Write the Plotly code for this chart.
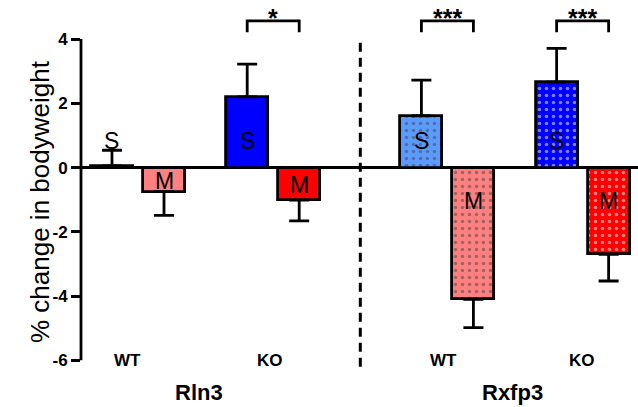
import plotly.graph_objects as go

# ---- data ----
genes = ["Rln3", "Rln3", "Rln3", "Rln3", "Rxfp3", "Rxfp3", "Rxfp3", "Rxfp3"]
genotypes = ["WT", "WT", "KO", "KO", "WT", "WT", "KO", "KO"]
sexes = ["S", "M", "S", "M", "S", "M", "S", "M"]
values = [0.05, -0.75, 2.20, -1.01, 1.61, -4.10, 2.66, -2.70]
sems = [0.49, 0.74, 1.02, 0.65, 1.11, 0.88, 1.05, 0.83]
sig_groups = [("Rln3", "KO", "*"), ("Rxfp3", "WT", "***"), ("Rxfp3", "KO", "***")]
y_ticks = [-6, -4, -2, 0, 2, 4]

# ---- layout helpers ----
gene_off = {"Rln3": 0.0, "Rxfp3": 5.95}
geno_off = {"WT": 0.0, "KO": 2.6}
sex_off = {"S": 0.0, "M": 1.0}
xs = [gene_off[g] + geno_off[t] + sex_off[s] for g, t, s in zip(genes, genotypes, sexes)]

fill = {
    ("Rln3", "WT", "S"): "#FFFFFF", ("Rln3", "WT", "M"): "#FF8080",
    ("Rln3", "KO", "S"): "#0000FF", ("Rln3", "KO", "M"): "#FF0000",
    ("Rxfp3", "WT", "S"): "#5B9BFF", ("Rxfp3", "WT", "M"): "#FF8080",
    ("Rxfp3", "KO", "S"): "#0000FF", ("Rxfp3", "KO", "M"): "#FF0000",
}
colors = [fill[(g, t, s)] for g, t, s in zip(genes, genotypes, sexes)]
patterns = ["." if g == "Rxfp3" else "" for g in genes]

err_plus = [e if v >= 0 else 0 for v, e in zip(values, sems)]
err_minus = [e if v < 0 else 0 for v, e in zip(values, sems)]

FONT = "Liberation Sans, Arial, sans-serif"
W, H = 638, 407
L, R, T, B = 81, 0, 15, 37
YR = [-6.3, 4.75]


def ypaper(v):
    return (v - YR[0]) / (YR[1] - YR[0])


fig = go.Figure()
fig.add_trace(go.Bar(
    x=xs, y=values, width=0.81,
    marker=dict(color=colors, line=dict(color="black", width=2.8),
                pattern=dict(shape=patterns, fgcolor="#000000", size=7, solidity=0.2)),
    error_y=dict(type="data", symmetric=False, array=err_plus, arrayminus=err_minus,
                 color="black", thickness=2.8, width=10),
    showlegend=False, hoverinfo="skip",
))

annotations = []
# letters in bars
for x, v, s in zip(xs, values, sexes):
    ly = 0.87 if s == "S" else max(v / 2, -1.0)
    annotations.append(dict(x=x, y=ly, xref="x", yref="y", text=s, showarrow=False, yshift=-1,
                            font=dict(family=FONT, size=23, color="black"), yanchor="middle"))

shapes = []
# significance brackets
for g, t, star in sig_groups:
    x1 = gene_off[g] + geno_off[t] + sex_off["S"]
    x2 = gene_off[g] + geno_off[t] + sex_off["M"]
    shapes.append(dict(type="path", xref="x", yref="y",
                       path=f"M {x1},4.21 L {x1},4.57 L {x2},4.57 L {x2},4.21",
                       line=dict(color="black", width=2.8)))
    annotations.append(dict(x=(x1 + x2) / 2, y=ypaper(4.57), xref="x", yref="paper",
                            text=f"<b>{star}</b>", showarrow=False, yanchor="middle", yshift=3,
                            font=dict(family=FONT, size=25, color="black")))

# genotype & gene labels
geno_label_x = {("Rln3", "WT"): 0.30, ("Rln3", "KO"): 3.04,
                ("Rxfp3", "WT"): 6.38, ("Rxfp3", "KO"): 9.04}
for (g, t), lx in geno_label_x.items():
    annotations.append(dict(x=lx, y=ypaper(-6.0), xref="x", yref="paper", text=f"<b>{t}</b>",
                            showarrow=False, yanchor="middle",
                            font=dict(family=FONT, size=17, color="black")))
for g in ["Rln3", "Rxfp3"]:
    gx = (geno_label_x[(g, "WT")] + geno_label_x[(g, "KO")]) / 2
    annotations.append(dict(x=gx, y=ypaper(-7.0), xref="x", yref="paper", text=f"<b>{g}</b>",
                            showarrow=False, yanchor="middle",
                            font=dict(family=FONT, size=22, color="black")))

# y-axis title
annotations.append(dict(x=(22.5 - L) / (W - L - R), y=(H - B - 201.5) / (H - T - B),
                        xref="paper", yref="paper", text="% change in bodyweight",
                        showarrow=False, textangle=-90,
                        font=dict(family=FONT, size=26, color="black")))

# y axis line
shapes.append(dict(type="line", xref="paper", yref="y", x0=0, x1=0, y0=-6, y1=4,
                   line=dict(color="black", width=2.8)))
# dashed separator
sep_x = (gene_off["Rln3"] + geno_off["KO"] + sex_off["M"] + gene_off["Rxfp3"]) / 2
shapes.append(dict(type="line", xref="x", yref="y", x0=sep_x, x1=sep_x, y0=-6.2, y1=4.0,
                   line=dict(color="black", width=3, dash="9px,6px")))

fig.update_layout(
    width=W, height=H, margin=dict(l=L, r=R, t=T, b=B),
    paper_bgcolor="white", plot_bgcolor="white",
    xaxis=dict(range=[-0.596, 10.115], showgrid=False, zeroline=False, showline=False,
               showticklabels=False, ticks=""),
    yaxis=dict(range=YR, tickvals=y_ticks, ticktext=[f"<b>{v}</b>" for v in y_ticks],
               ticks="outside", ticklen=9, tickwidth=2.8, tickcolor="black",
               tickfont=dict(family=FONT, size=17, color="black"),
               showgrid=False, showline=False, zeroline=True, zerolinecolor="black",
               zerolinewidth=2.8),
    shapes=shapes, annotations=annotations, bargap=0,
)

fig.write_html("out.html")
